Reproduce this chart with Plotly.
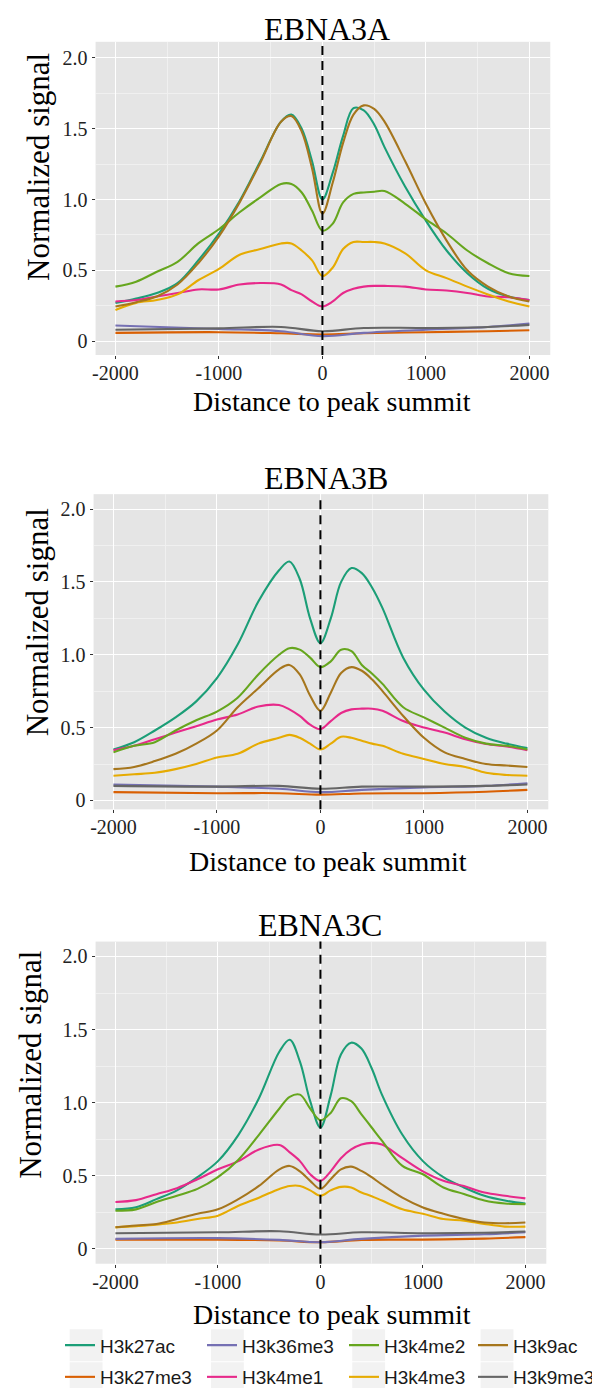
import plotly.graph_objects as go

# ---------------- data ----------------
SERIES = ["H3k27ac", "H3k27me3", "H3k36me3", "H3k4me1", "H3k4me2", "H3k4me3", "H3k9ac", "H3k9me3"]
COLORS = ["#1B9E77", "#D95F02", "#7570B3", "#E7298A", "#66A61E", "#E6AB02", "#A6761D", "#666666"]
# legend layout (ggplot fills 2 rows column by column)
LEGEND_ROW = [1, 2, 1, 2, 1, 2, 1, 2]
LEGEND_COL = [1, 1, 2, 2, 3, 3, 4, 4]

PANEL_TITLES = ["EBNA3A", "EBNA3B", "EBNA3C"]

# distance grid for the peaked marks
X_MAIN = [-2000, -1800, -1600, -1400, -1200, -1000, -800, -600, -400, -300, -200, -100, 0,
          100, 200, 300, 400, 500, 600, 800, 1000, 1200, 1400, 1600, 1800, 2000]
# distance grid for the flat (repressive) marks
X_FLAT = [-2000, -1000, -400, 0, 400, 1000, 1600, 2000]

EBNA3A = {
    "H3k27ac":  [.27, .30, .34, .41, .57, .76, .99, 1.27, 1.55, 1.60, 1.50, 1.27, 1.00, 1.19, 1.45, 1.645, 1.63, 1.53, 1.37, 1.09, .85, .64, .48, .37, .315, .29],
    "H3k9ac":   [.245, .275, .315, .40, .55, .74, .98, 1.26, 1.55, 1.59, 1.48, 1.22, .90, 1.12, 1.40, 1.60, 1.665, 1.64, 1.55, 1.27, .97, .71, .50, .385, .315, .28],
    "H3k4me2":  [.385, .42, .49, .56, .69, .79, .91, 1.015, 1.11, 1.11, 1.05, .92, .78, .83, .98, 1.04, 1.05, 1.055, 1.06, .97, .86, .76, .64, .55, .48, .46],
    "H3k4me3":  [.22, .27, .29, .33, .43, .51, .61, .65, .69, .69, .64, .57, .46, .52, .65, .70, .70, .70, .69, .62, .50, .445, .385, .33, .28, .245],
    "H3k4me1":  [.28, .29, .315, .34, .365, .365, .40, .41, .40, .36, .33, .28, .245, .28, .34, .37, .385, .39, .39, .385, .365, .357, .34, .315, .31, .29],
    "H3k9me3":  [.08, .09, .10, .07, .093, .093, .10, .115],
    "H3k36me3": [.11, .086, .07, .035, .058, .08, .10, .124],
    "H3k27me3": [.058, .063, .055, .047, .055, .063, .07, .077],
}
EBNA3B = {
    "H3k27ac":  [.35, .40, .48, .57, .68, .84, 1.07, 1.365, 1.58, 1.64, 1.52, 1.25, 1.08, 1.25, 1.50, 1.595, 1.56, 1.46, 1.32, .98, .76, .61, .50, .43, .39, .36],
    "H3k4me2":  [.33, .375, .40, .48, .55, .61, .705, .865, 1.00, 1.045, 1.035, .98, .915, .955, 1.035, 1.025, .93, .87, .80, .64, .57, .50, .43, .39, .375, .35],
    "H3k9ac":   [.215, .23, .27, .32, .39, .48, .64, .77, .90, .93, .865, .72, .615, .74, .875, .915, .89, .83, .75, .58, .43, .33, .285, .25, .24, .23],
    "H3k4me1":  [.345, .375, .42, .466, .51, .555, .59, .645, .655, .625, .58, .52, .49, .545, .60, .625, .63, .63, .615, .545, .50, .466, .42, .387, .37, .345],
    "H3k4me3":  [.17, .18, .19, .215, .25, .295, .32, .39, .43, .45, .43, .39, .35, .39, .437, .43, .41, .39, .375, .32, .285, .25, .23, .19, .175, .17],
    "H3k9me3":  [.10, .095, .10, .08, .095, .095, .10, .11],
    "H3k36me3": [.11, .095, .08, .057, .073, .09, .10, .118],
    "H3k27me3": [.057, .05, .05, .04, .048, .05, .06, .073],
}
EBNA3C = {
    "H3k27ac":  [.27, .285, .34, .40, .49, .60, .78, 1.03, 1.35, 1.43, 1.28, 1.01, .83, 1.05, 1.33, 1.41, 1.37, 1.235, 1.055, .78, .60, .49, .42, .363, .33, .31],
    "H3k4me2":  [.26, .27, .32, .363, .41, .49, .61, .78, .96, 1.04, 1.055, .96, .88, .93, 1.03, 1.01, .92, .83, .74, .567, .51, .42, .375, .33, .31, .306],
    "H3k4me1":  [.32, .333, .374, .415, .476, .544, .60, .68, .71, .66, .60, .51, .465, .53, .62, .68, .714, .725, .714, .62, .53, .465, .43, .385, .363, .345],
    "H3k9ac":   [.147, .16, .17, .204, .24, .27, .34, .43, .544, .567, .53, .465, .41, .476, .544, .562, .533, .49, .44, .35, .283, .24, .204, .18, .175, .18],
    "H3k4me3":  [.147, .155, .165, .18, .204, .227, .295, .35, .41, .43, .43, .40, .363, .40, .424, .42, .385, .36, .33, .27, .24, .204, .193, .17, .152, .152],
    "H3k9me3":  [.107, .113, .12, .098, .113, .107, .11, .118],
    "H3k36me3": [.068, .073, .061, .045, .068, .09, .10, .113],
    "H3k27me3": [.063, .063, .057, .045, .061, .063, .07, .08],
}
PANELS = [EBNA3A, EBNA3B, EBNA3C]

X_TICKS = [-2000, -1000, 0, 1000, 2000]
Y_TICKS = [0, 0.5, 1.0, 1.5, 2.0]
Y_TICKTEXT = ["0", "0.5", "1.0", "1.5", "2.0"]
X_TITLE = "Distance to peak summit"
Y_TITLE = "Normalized signal"

# ---------------- layout geometry (pixels) ----------------
W, H = 600, 1388
# panel boxes: (left, right, top, bottom)
BOXES = [(85, 542, 34, 349), (83, 540, 489, 806), (85, 538, 939, 1263)]
Y_RANGES = [[-0.098, 2.114], [-0.061, 2.102], [-0.102, 2.102]]
X_RANGES = [[-2192, 2202], [-2192, 2202], [-2194, 2204]]
TITLE_POS = [(318, 21), (317, 473), (311, 922)]
XTITLE_POS = [(323, 396), (319, 858), (323, 1314)]
YTITLE_POS = [(27, 160), (27, 618), (20, 1063)]
LEGEND_X = 56
LEGEND_ROW_Y = [1345, 1377]
LEGEND_COL_W = [97, 97, 84, 90]
KEY_BOX_X = [59, 201, 343, 472]
KEY_BOX_Y = [(1329, 1361), (1362, 1394)]

SERIF = "Liberation Serif"
SANS = "Liberation Sans"


def px(xp):
    return xp / W


def py(yp):
    return 1 - yp / H


fig = go.Figure()
for p, data in enumerate(PANELS):
    xa = "x" if p == 0 else f"x{p+1}"
    ya = "y" if p == 0 else f"y{p+1}"
    for s, color, row, col in zip(SERIES, COLORS, LEGEND_ROW, LEGEND_COL):
        vals = data[s]
        xs = X_MAIN if len(vals) == len(X_MAIN) else X_FLAT
        fig.add_trace(go.Scatter(
            x=xs, y=vals, mode="lines", name=s,
            line=dict(color=color, width=2.1, shape="spline", smoothing=1.0),
            xaxis=xa, yaxis=ya, legendgroup=s, showlegend=(p == 0),
            legend="legend" if row == 1 else "legend2",
            legendrank=col, legendwidth=LEGEND_COL_W[col - 1],
        ))

axis_common = dict(
    showline=False, zeroline=False, showgrid=True, gridcolor="white", gridwidth=1.3,
    ticks="outside", ticklen=3, tickwidth=1, tickcolor="#333333",
    tickfont=dict(family=SERIF, size=20, color="#222222"),
)
legend_common = dict(
    orientation="h", x=px(LEGEND_X), xanchor="left", yanchor="middle",
    font=dict(family=SANS, size=19, color="#1A1A1A"),
    bgcolor="rgba(0,0,0,0)", traceorder="normal", borderwidth=0,
)
layout = dict(
    width=W, height=H, margin=dict(l=0, r=0, t=0, b=0),
    paper_bgcolor="white", plot_bgcolor="#E5E5E5",
    showlegend=True,
    legend=dict(y=py(LEGEND_ROW_Y[0]), **legend_common),
    legend2=dict(y=py(LEGEND_ROW_Y[1]), **legend_common),
)
shapes = []
annotations = []
# light key backgrounds of the legend
for bx in KEY_BOX_X:
    for (y0, y1) in KEY_BOX_Y:
        shapes.append(dict(type="rect", xref="paper", yref="paper",
                           x0=px(bx), x1=px(bx + 33), y0=py(y1), y1=py(y0),
                           fillcolor="#F2F2F2", line=dict(width=0), layer="below"))
for p, (l, r, t, b) in enumerate(BOXES):
    k = "" if p == 0 else str(p + 1)
    layout["xaxis" + k] = dict(
        domain=[px(l), px(r)], range=X_RANGES[p], anchor="y" + k,
        tickvals=X_TICKS, ticktext=[str(v) for v in X_TICKS],
        ticklabelstandoff=-3,
        minor=dict(dtick=500, tick0=0, showgrid=True, gridcolor="#F0F0F0", gridwidth=0.7, ticks=""),
        **axis_common,
    )
    layout["yaxis" + k] = dict(
        domain=[py(b), py(t)], range=Y_RANGES[p], anchor="x" + k,
        tickvals=Y_TICKS, ticktext=Y_TICKTEXT,
        minor=dict(dtick=0.25, tick0=0, showgrid=True, gridcolor="#F0F0F0", gridwidth=0.7, ticks=""),
        **axis_common,
    )
    shapes.append(dict(
        type="line", xref="x" + k, yref=("y" + k) + " domain", x0=0, x1=0, y0=0, y1=1,
        line=dict(color="black", width=2, dash="9px,6px"), layer="above",
    ))
    tx, ty = TITLE_POS[p]
    annotations.append(dict(
        text=PANEL_TITLES[p], x=px(tx), y=py(ty), xref="paper", yref="paper",
        xanchor="center", yanchor="middle", showarrow=False,
        font=dict(family=SERIF, size=32, color="black"),
    ))
    xx, xy = XTITLE_POS[p]
    annotations.append(dict(
        text=X_TITLE, x=px(xx), y=py(xy), xref="paper", yref="paper",
        xanchor="center", yanchor="middle", showarrow=False,
        font=dict(family=SERIF, size=28, color="black"),
    ))
    yx, yy = YTITLE_POS[p]
    annotations.append(dict(
        text=Y_TITLE, x=px(yx), y=py(yy), xref="paper", yref="paper",
        xanchor="center", yanchor="middle", showarrow=False, textangle=-90,
        font=dict(family=SERIF, size=31, color="black"),
    ))
layout["shapes"] = shapes
layout["annotations"] = annotations
fig.update_layout(**layout)
fig.write_html("out.html")
